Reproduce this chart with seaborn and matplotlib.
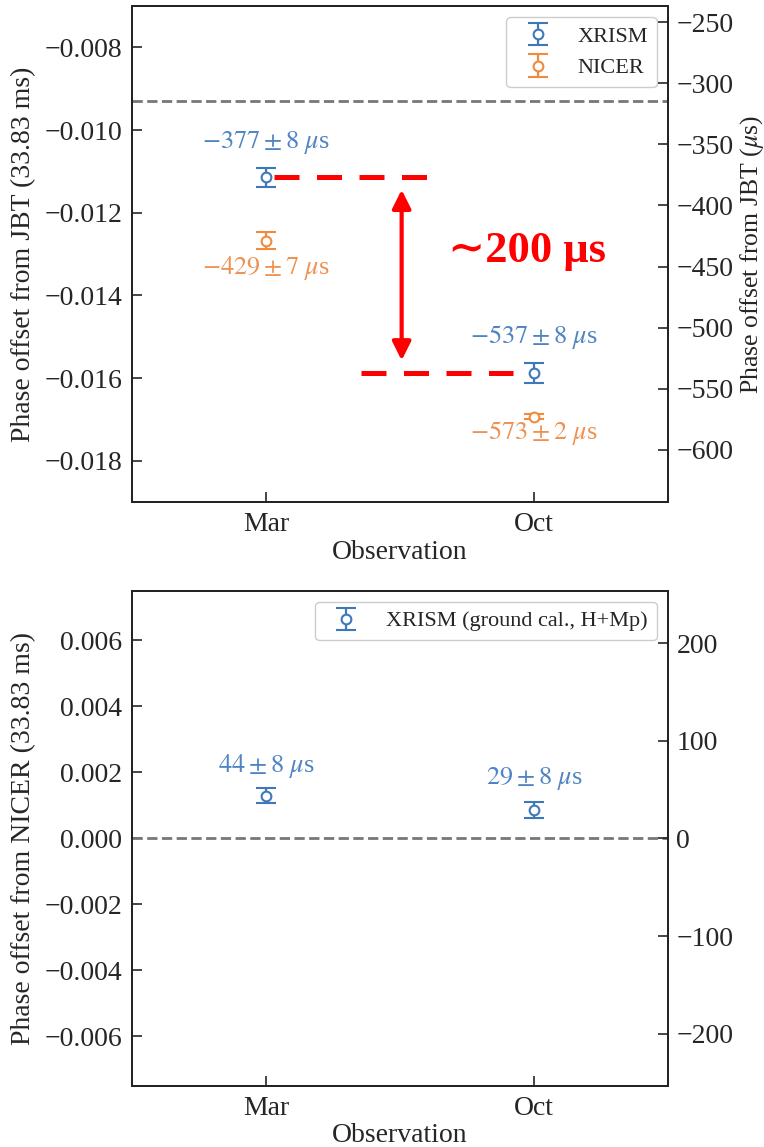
import numpy as np
import pandas as pd
import matplotlib
matplotlib.use("Agg")
import matplotlib.pyplot as plt
import seaborn as sns

# ---- data -------------------------------------------------------------
months = ["Mar", "Oct"]
period_us = 33830.0          # Crab pulse period, 33.83 ms

xrism_us = [-377, -537]       # XRISM phase offset from JBT (us)
xrism_err_us = [8, 8]
nicer_us = [-429, -573]       # NICER phase offset from JBT (us)
nicer_err_us = [7, 2]

diff_us = [44, 29]            # XRISM (ground cal., H+Mp) minus NICER (us)
diff_err_us = [8, 8]

jbt_ref_phase = -0.0093       # reference level drawn as a dashed line

top_left_ticks = [-0.008, -0.010, -0.012, -0.014, -0.016, -0.018]
top_right_ticks = [-250, -300, -350, -400, -450, -500, -550, -600]
bottom_left_ticks = [0.006, 0.004, 0.002, 0.000, -0.002, -0.004, -0.006]
bottom_right_ticks = [200, 100, 0, -100, -200]

# ---- style ------------------------------------------------------------
sns.set_style("ticks")
plt.rcParams["font.family"] = ["Liberation Serif", "DejaVu Serif"]
plt.rcParams["mathtext.fontset"] = "stix"
plt.rcParams["axes.linewidth"] = 1.3
plt.rcParams["axes.edgecolor"] = "#222222"

BLUE = "#3f78b9"
BLUE_TXT = "#4f84c2"
ORANGE = "#f28a3c"
ORANGE_TXT = "#ef9150"
RED = "#ff0000"
FS_TICK = 20
FS_LAB = 20
FS_RLAB = 18.5
FS_ANN = 19
FS_LEG = 16

df = pd.DataFrame({
    "month": months,
    "x": np.arange(len(months)),
    "xrism": np.array(xrism_us) / period_us,
    "xrism_err": np.array(xrism_err_us) / period_us,
    "nicer": np.array(nicer_us) / period_us,
    "nicer_err": np.array(nicer_err_us) / period_us,
    "diff": np.array(diff_us) / period_us,
    "diff_err": np.array(diff_err_us) / period_us,
})

fig = plt.figure(figsize=(7.64, 11.47), dpi=100)
ax1 = fig.add_axes([0.1728, 0.5623, 0.7016, 0.4324])
ax2 = fig.add_axes([0.1728, 0.0532, 0.7016, 0.4316])

eb_kw = dict(fmt="o", mfc="white", ms=7, mew=1.5, elinewidth=1.6,
             capsize=7.5, capthick=1.8)


def fmt_label(v, e):
    return rf"${v}\pm{e}\ \mu$s"


def style_axes(ax, ylim, lticks, rticks, ylabel, rlabel):
    ax.set_xlim(-0.5, 1.5)
    ax.set_ylim(*ylim)
    ax.set_xticks(df["x"])
    ax.set_xticklabels(df["month"])
    ax.set_yticks(lticks)
    ax.set_yticklabels([f"{t:.3f}".replace("-", "\u2212") for t in lticks])
    ax.tick_params(direction="in", length=7, width=1.2, labelsize=FS_TICK,
                   top=False, right=False, pad=7)
    ax.set_xlabel("Observation", fontsize=FS_LAB, labelpad=2)
    ax.set_ylabel(ylabel, fontsize=FS_LAB, labelpad=6)
    axr = ax.twinx()
    axr.set_ylim(ylim[0] * period_us, ylim[1] * period_us)
    axr.set_yticks(rticks)
    axr.set_yticklabels([str(t).replace("-", "\u2212") for t in rticks])
    axr.tick_params(direction="in", length=7, width=1.2, labelsize=FS_TICK,
                    pad=6)
    if rlabel:
        axr.set_ylabel(rlabel, fontsize=FS_RLAB, labelpad=3)
    for sp in axr.spines.values():
        sp.set_linewidth(1.3)
    return axr


# ---- top panel: offsets from JBT -------------------------------------
ax1.errorbar(df["x"], df["xrism"], yerr=df["xrism_err"], color=BLUE,
             label="XRISM", **eb_kw)
ax1.errorbar(df["x"], df["nicer"], yerr=df["nicer_err"], color=ORANGE,
             label="NICER", **eb_kw)
ax1.axhline(jbt_ref_phase, color="#777777", ls="--", lw=2)

xr_offsets = [25, 26]
ni_offsets = [-19.5, -11.5]
for i in range(len(months)):
    ax1.annotate(fmt_label(xrism_us[i], xrism_err_us[i]),
                 (df["x"][i], df["xrism"][i]), xytext=(0, xr_offsets[i]),
                 textcoords="offset points", ha="center", va="center",
                 color=BLUE_TXT, fontsize=FS_ANN)
    ax1.annotate(fmt_label(nicer_us[i], nicer_err_us[i]),
                 (df["x"][i], df["nicer"][i]), xytext=(0, ni_offsets[i]),
                 textcoords="offset points", ha="center", va="center",
                 color=ORANGE_TXT, fontsize=FS_ANN)

# shift between the two XRISM epochs
ax1.plot([0.03, 0.62], [df["xrism"][0]] * 2, color=RED, lw=3.6,
         dashes=(5, 3.5), solid_capstyle="butt", dash_capstyle="butt")
ax1.plot([0.356, 0.921], [df["xrism"][1]] * 2, color=RED, lw=3.6,
         dashes=(5, 3.5), solid_capstyle="butt", dash_capstyle="butt")
gap = 0.0003
ax1.annotate("", xy=(0.506, df["xrism"][1] + gap),
             xytext=(0.506, df["xrism"][0] - gap),
             arrowprops=dict(arrowstyle="<|-|>", color=RED, lw=3,
                             mutation_scale=28, shrinkA=0, shrinkB=0))
ax1.text(0.975, (df["xrism"][0] + df["xrism"][1]) / 2 + 0.00058,
         "\u223c200 \u03bcs", color=RED, fontsize=32, fontweight="bold",
         ha="center", va="center",
         family=["Liberation Serif", "DejaVu Serif"])

ax1.legend(loc="upper right", fontsize=FS_LEG, framealpha=1,
           edgecolor="#cccccc")
style_axes(ax1, (-0.019, -0.007), top_left_ticks, top_right_ticks,
           "Phase offset from JBT (33.83 ms)",
           r"Phase offset from JBT ($\mu$s)")

# ---- bottom panel: XRISM relative to NICER ---------------------------
ax2.errorbar(df["x"], df["diff"], yerr=df["diff_err"], color=BLUE,
             label="XRISM (ground cal., H+Mp)", **eb_kw)
ax2.axhline(0, color="#777777", ls="--", lw=2)
diff_offsets = [21.6, 23]
for i in range(len(months)):
    ax2.annotate(fmt_label(diff_us[i], diff_err_us[i]),
                 (df["x"][i], df["diff"][i]), xytext=(0, diff_offsets[i]),
                 textcoords="offset points", ha="center", va="center",
                 color=BLUE_TXT, fontsize=FS_ANN)
ax2.legend(loc="upper right", fontsize=FS_LEG, framealpha=1,
           edgecolor="#cccccc")
style_axes(ax2, (-0.0075, 0.0075), bottom_left_ticks, bottom_right_ticks,
           "Phase offset from NICER (33.83 ms)", None)

fig.savefig("out.png", dpi=100)
